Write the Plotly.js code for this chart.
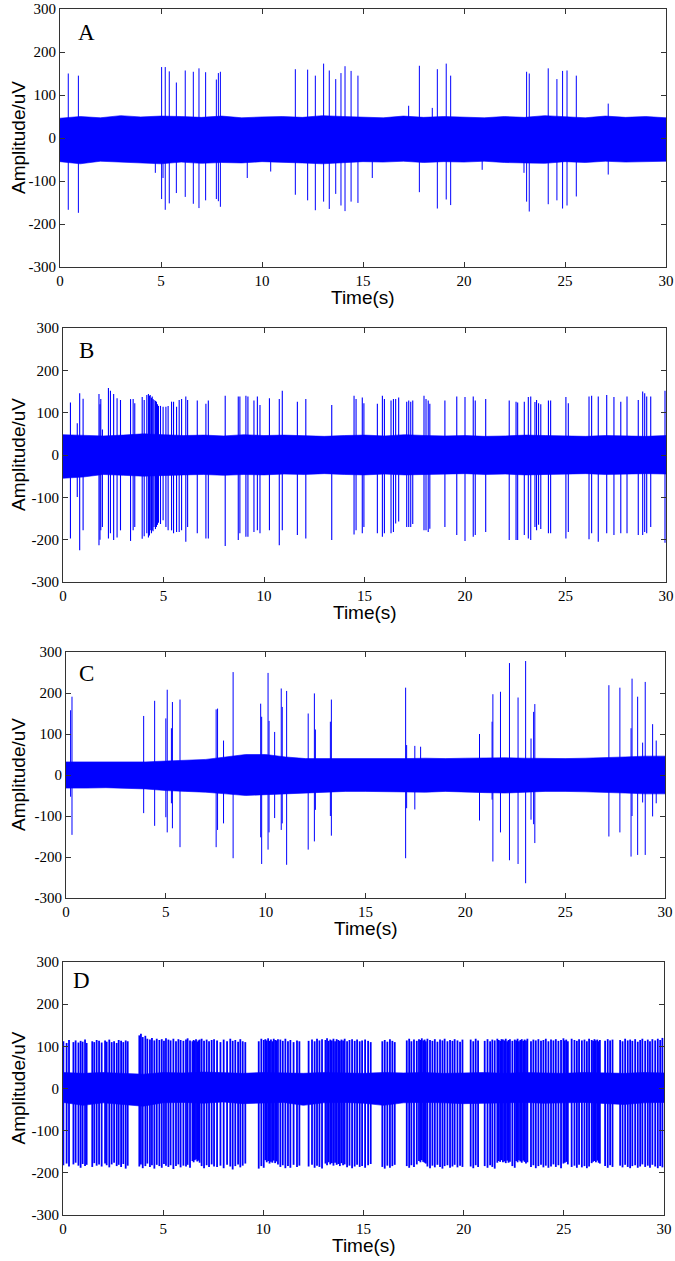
<!DOCTYPE html>
<html><head><meta charset="utf-8">
<script src="https://cdn.plot.ly/plotly-3.0.1.min.js"></script>
<style>html,body{margin:0;padding:0;background:#fff}</style>
</head><body>
<div id="chart" style="width:675px;height:1261px"></div>
<script>
// ---------- DATA ----------
const panelLabels = ['A', 'B', 'C', 'D'];
const xTicks = [0, 5, 10, 15, 20, 25, 30];
const yTicks = [-300, -200, -100, 0, 100, 200, 300];
const xTitle = 'Time(s)';
const yTitle = 'Amplitude/uV';

// background noise envelope, knots every second
const bandT = [0,1,2,3,4,5,6,7,8,9,10,11,12,13,14,15,16,17,18,19,20,21,22,23,24,25,26,27,28,29,30];
const aBandHi = [46,50,47,52,49,51,50,48,51,47,49,50,48,52,50,49,47,51,48,50,49,47,50,48,52,49,47,51,48,50,47];
const aBandLo = [-55,-60,-54,-57,-58,-60,-56,-59,-57,-58,-55,-56,-58,-60,-57,-55,-56,-54,-57,-55,-56,-54,-57,-58,-59,-55,-57,-54,-56,-55,-54];
const bBandHi = [48,46,45,47,50,48,46,47,45,48,46,47,45,44,46,47,45,48,46,45,46,44,45,47,46,45,44,46,45,44,46];
const bBandLo = [-55,-52,-46,-48,-50,-48,-47,-46,-48,-46,-47,-45,-46,-44,-46,-47,-45,-47,-46,-45,-44,-46,-45,-47,-46,-45,-44,-46,-45,-44,-45];
const cBandHi = [32,32,31,32,32,34,36,38,44,50,50,44,40,40,40,40,39,40,41,40,41,42,42,41,40,40,41,42,44,46,46];
const cBandLo = [-32,-32,-31,-32,-34,-38,-40,-42,-46,-50,-48,-45,-44,-42,-40,-40,-40,-41,-42,-40,-41,-43,-44,-42,-40,-40,-41,-42,-44,-46,-46];
const dBandHi = [38,36,38,36,34,38,37,39,38,36,38,37,36,38,37,36,38,37,38,36,37,38,36,38,37,36,38,37,36,38,37];
const dBandLo = [-33,-40,-34,-38,-42,-34,-33,-35,-32,-36,-34,-33,-40,-34,-33,-35,-40,-34,-33,-34,-36,-35,-34,-33,-35,-34,-33,-36,-38,-34,-33];

// spikes: time (s), positive tip, negative tip (uV)
const aSpikeT  = [0.41,0.91,4.72,5.03,5.1,5.21,5.41,5.76,6.2,6.6,6.88,7.21,7.74,7.84,7.94,9.27,10.43,11.65,12.26,12.64,13.05,13.33,13.65,13.91,14.11,14.41,14.75,15.46,17.26,17.79,18.43,18.68,19.12,19.34,20.9,22.97,23.1,23.23,24.17,24.6,24.88,25.1,25.56,27.14];
const aSpikeUp = [150,145,0,165,40,165,155,129,157,154,162,153,136,151,154,0,0,160,159,145,173,157,137,151,167,156,145,0,75,168,70,160,173,145,0,0,154,150,162,137,156,157,145,80];
const aSpikeDn = [-167,-174,-81,-142,-93,-167,-152,-128,-137,-153,-163,-145,-142,-147,-160,-93,-78,-132,-145,-168,-148,-165,-130,-157,-170,-148,-151,-93,0,-126,0,-164,-143,-156,-74,-81,-148,-171,-154,-145,-164,-157,-136,-85];

const bSpikeT  = [0.37,0.71,0.83,1.0,1.79,1.84,1.88,1.96,2.26,2.36,2.52,2.69,2.86,3.36,3.49,3.57,3.94,4.04,4.17,4.25,4.3,4.34,4.4,4.44,4.48,4.53,4.6,4.65,4.7,4.75,4.85,4.98,5.12,5.23,5.4,5.5,5.65,5.78,5.9,6.11,6.2,6.68,7.11,7.23,8.07,8.72,8.8,9.1,9.2,9.5,9.67,9.8,10.27,10.76,10.91,11.66,12.08,13.37,
  14.48,14.58,14.89,14.97,15.64,15.89,15.99,16.32,16.44,16.55,16.7,17.1,17.2,17.3,17.4,17.96,18.06,18.17,18.25,19.0,19.59,20.0,20.41,20.51,21.03,22.2,22.54,22.62,22.95,23.15,23.27,23.48,23.56,23.66,23.77,24.15,24.26,25.02,25.14,26.17,26.3,26.63,27.05,27.41,27.75,28.06,28.62,28.84,28.94,29.04,29.24,29.95];
const bSpikeUp = [124,75,146,133,144,120,132,60,158,152,144,134,130,132,132,122,137,130,142,144,140,142,135,138,132,130,128,126,120,116,116,114,114,116,126,126,114,130,132,138,130,129,121,129,140,138,138,140,138,129,138,118,134,132,152,126,132,118,
  140,132,136,122,121,140,132,129,132,132,136,126,129,126,129,140,132,129,121,129,138,137,138,129,132,129,126,124,126,137,138,125,130,122,120,129,129,137,122,138,140,138,142,137,126,138,130,150,146,138,138,152];
const bSpikeDn = [-197,-99,-225,-178,-213,-200,-178,-170,-197,-185,-201,-195,-178,-203,-178,-170,-198,-192,-185,-195,-190,-178,-185,-178,-180,-170,-175,-170,-165,-160,-163,-154,-170,-178,-178,-185,-182,-182,-178,-205,-170,-185,-197,-197,-215,-201,-185,-193,-193,-182,-178,-185,-178,-213,-178,-189,-197,-201,
  -188,-178,-185,-170,-185,-193,-185,-185,-182,-162,-157,-170,-170,-170,-163,-178,-178,-182,-174,-170,-189,-203,-193,-189,-182,-201,-201,-201,-189,-197,-201,-170,-178,-165,-175,-185,-185,-197,-182,-199,-185,-205,-185,-189,-185,-185,-189,-189,-182,-185,-170,-207];

const cSpikeT  = [0.23,0.3,3.89,4.44,5.0,5.07,5.28,5.33,5.71,7.52,7.59,7.89,8.37,9.75,9.8,10.12,10.17,10.45,10.78,10.83,11.05,12.13,12.44,12.49,13.24,13.29,17.01,17.06,17.47,17.76,20.71,21.34,21.38,21.76,22.21,22.64,23.02,23.29,23.42,23.48,27.19,27.74,28.3,28.35,28.63,28.88,29.01,29.38,29.56];
const cSpikeUp = [158,191,144,181,138,208,114,178,184,160,162,84,251,174,142,249,132,105,211,166,205,150,199,111,130,184,213,73,71,69,100,130,197,203,273,189,278,89,154,173,219,213,114,235,191,79,227,124,84];
const cSpikeDn = [-53,-146,-93,-124,-103,-140,-69,-130,-176,-176,-134,-118,-203,-152,-217,-182,-140,-105,-134,-118,-219,-182,-162,-85,-100,-148,-203,-81,-84,0,-111,-60,-211,-140,-208,-217,-264,-109,-120,-166,-150,-140,-199,-100,-195,-67,-195,-101,-69];

const dSpikeT = [
  0.02,0.18,0.3,0.52,0.63,0.77,0.88,0.98,1.1,1.18,1.46,1.56,1.68,1.8,1.93,2.1,2.18,2.31,2.43,2.55,2.68,2.78,2.9,3.01,3.13,3.23,
  3.81,3.89,3.98,4.11,4.21,4.34,4.44,4.56,4.68,4.81,4.93,5.04,5.14,5.26,5.37,5.51,5.64,5.76,5.87,6.01,6.14,6.22,6.34,6.46,6.52,6.58,6.64,6.7,6.76,6.82,6.92,7.04,7.17,7.29,7.42,7.54,
  7.69,7.86,8.02,8.19,8.35,8.47,8.6,8.74,8.85,8.97,9.1,
  9.77,9.9,10.02,10.1,10.17,10.24,10.31,10.38,10.45,10.52,10.59,10.66,10.73,10.85,10.97,11.1,11.23,11.35,11.51,11.68,11.8,
  12.26,12.43,12.56,12.68,12.8,12.93,13.1,13.18,13.26,13.34,13.42,13.5,13.58,13.66,13.74,13.82,13.9,13.98,14.06,14.18,14.3,14.43,14.56,14.68,14.81,14.93,15.08,15.23,15.36,
  15.94,16.06,16.19,16.32,16.44,16.56,
  17.16,17.28,17.39,17.52,17.66,17.77,17.84,17.91,17.98,18.05,18.11,18.19,18.32,18.44,18.56,18.69,18.82,18.94,19.05,19.19,19.32,19.44,19.55,19.69,19.82,19.94,
  20.35,20.48,20.6,20.72,
  21.05,21.19,21.32,21.43,21.55,21.68,21.75,21.82,21.89,21.96,22.03,22.1,22.17,22.24,22.31,22.43,22.55,22.62,22.69,22.76,22.83,22.9,22.97,23.04,23.11,23.18,23.36,23.48,23.6,23.73,23.86,23.98,24.1,24.23,24.36,24.48,24.6,24.73,24.86,24.98,25.05,25.12,25.2,25.39,25.53,25.65,25.76,25.9,26.03,26.15,26.26,26.39,26.46,26.53,26.6,26.67,26.74,26.8,27.06,27.19,27.31,27.43,
  27.81,27.93,28.06,28.19,28.31,28.42,28.56,28.69,28.81,28.92,29.06,29.19,29.3,29.42,29.56,29.69,29.81,29.92];
const dSpikeUp = [
  112,108,115,110,114,109,113,111,116,108,112,110,115,113,109,114,111,116,110,112,108,115,113,110,114,112,
  126,130,122,125,118,116,120,114,118,115,117,113,119,116,114,118,112,117,115,113,116,119,114,112,115,113,117,111,114,116,118,113,116,112,115,117,
  114,110,116,112,118,113,115,111,117,112,110,
  112,118,115,117,114,119,113,116,112,118,115,114,117,116,113,118,112,115,110,114,112,
  113,116,112,118,114,117,115,119,113,116,114,118,112,117,115,113,116,114,118,112,115,117,113,116,112,114,116,113,110,
  112,115,111,117,113,110,
  114,118,112,116,113,117,115,119,114,116,112,118,115,113,117,111,116,114,118,112,115,113,117,114,111,116,
  116,112,118,114,
  113,117,112,116,114,118,115,113,117,116,114,118,112,115,117,113,116,114,118,112,115,117,113,116,114,118,112,116,114,117,113,115,118,112,116,114,117,113,115,119,114,116,112,118,115,113,117,114,116,112,118,115,113,117,114,116,112,115,113,117,114,116,
  115,112,118,114,116,113,117,111,115,118,113,116,112,117,114,118,115,120];
const dSpikeDn = [
  -182,-178,-185,-180,-176,-183,-188,-179,-184,-181,-186,-177,-183,-180,-185,-178,-182,-187,-180,-176,-184,-181,-186,-179,-190,-183,
  -185,-180,-189,-184,-178,-186,-182,-190,-181,-184,-188,-179,-183,-186,-182,-191,-184,-180,-187,-183,-185,-181,-188,-172,-175,-170,-168,-173,-171,-176,-184,-189,-182,-186,-180,-185,
  -186,-183,-189,-181,-185,-192,-184,-180,-187,-183,-178,
  -190,-184,-188,-170,-175,-172,-178,-174,-176,-171,-177,-173,-180,-186,-182,-189,-184,-188,-181,-186,-183,
  -185,-181,-188,-183,-186,-190,-178,-182,-175,-180,-177,-183,-176,-181,-179,-184,-177,-182,-180,-187,-183,-189,-185,-181,-186,-184,-188,-182,-179,
  -186,-190,-183,-188,-184,-181,
  -184,-188,-182,-186,-180,-172,-175,-170,-174,-176,-178,-185,-189,-183,-187,-181,-186,-190,-184,-182,-188,-185,-181,-187,-183,-186,
  -185,-189,-182,-186,
  -184,-188,-182,-186,-190,-176,-172,-174,-170,-175,-173,-177,-171,-176,-174,-184,-188,-172,-175,-170,-173,-176,-171,-174,-178,-175,-186,-182,-189,-184,-181,-187,-183,-188,-185,-180,-186,-182,-189,-178,-176,-174,-180,-186,-183,-188,-181,-187,-184,-189,-185,-177,-174,-172,-175,-171,-176,-178,-184,-188,-182,-186,
  -183,-187,-181,-186,-189,-184,-182,-188,-185,-180,-186,-183,-188,-181,-185,-189,-184,-187];

// ---------- LAYOUT (pixel boxes of each panel) ----------
const W = 675, H = 1261;
const BLUE = '#0000ff';
const panels = [
  {hi: aBandHi, lo: aBandLo, t: aSpikeT, up: aSpikeUp, dn: aSpikeDn, box: [60, 666, 9, 267],   letter: [86, 32],  lw: 1},
  {hi: bBandHi, lo: bBandLo, t: bSpikeT, up: bSpikeUp, dn: bSpikeDn, box: [63, 666, 328, 582], letter: [86, 350], lw: 1.1},
  {hi: cBandHi, lo: cBandLo, t: cSpikeT, up: cSpikeUp, dn: cSpikeDn, box: [66, 665, 652, 898], letter: [86, 673], lw: 1},
  {hi: dBandHi, lo: dBandLo, t: dSpikeT, up: dSpikeUp, dn: dSpikeDn, box: [63, 664, 962, 1215], letter: [81, 980], lw: 1.8}
];

const traces = [];
const layout = {
  width: W, height: H,
  margin: {l: 0, r: 0, t: 0, b: 0},
  paper_bgcolor: '#fff', plot_bgcolor: '#fff',
  showlegend: false,
  annotations: []
};
const px = x => x / W;
const py = y => 1 - y / H;

panels.forEach((p, i) => {
  const n = i + 1;
  const xa = 'x' + (n === 1 ? '' : n), ya = 'y' + (n === 1 ? '' : n);
  // noise band
  const bx = bandT.concat(bandT.slice().reverse());
  const by = p.hi.concat(p.lo.slice().reverse());
  traces.push({type: 'scatter', mode: 'lines', x: bx, y: by, fill: 'toself',
    fillcolor: BLUE, line: {color: BLUE, width: 0.6}, xaxis: xa, yaxis: ya, hoverinfo: 'skip'});
  // spikes
  const sx = [], sy = [];
  const m = Math.min(p.t.length, p.up.length, p.dn.length);
  for (let k = 0; k < m; k++) {
    sx.push(p.t[k], p.t[k], null);
    sy.push(p.up[k], p.dn[k], null);
  }
  traces.push({type: 'scatter', mode: 'lines', x: sx, y: sy, connectgaps: false,
    line: {color: BLUE, width: p.lw}, xaxis: xa, yaxis: ya, hoverinfo: 'skip'});

  const [l, r, t, b] = p.box;
  const axCommon = {
    showline: true, linecolor: '#333', linewidth: 1, mirror: 'ticks',
    ticks: 'inside', ticklen: 5, tickcolor: '#333', tickwidth: 1,
    showgrid: false, zeroline: false,
    tickfont: {family: 'Liberation Serif, Times New Roman, serif', size: 15, color: '#000'}
  };
  layout['xaxis' + (n === 1 ? '' : n)] = Object.assign({}, axCommon, {
    domain: [px(l), px(r)], anchor: ya, range: [0, 30], tickvals: xTicks, ticktext: xTicks.map(String)
  });
  layout['yaxis' + (n === 1 ? '' : n)] = Object.assign({}, axCommon, {
    domain: [py(b), py(t)], anchor: xa, range: [-300, 300], tickvals: yTicks, ticktext: yTicks.map(String)
  });
  // panel letter
  layout.annotations.push({xref: 'paper', yref: 'paper', x: px(p.letter[0]), y: py(p.letter[1]),
    xanchor: 'center', yanchor: 'middle', showarrow: false, text: panelLabels[i],
    font: {family: 'Liberation Serif, Times New Roman, serif', size: 23, color: '#000'}});
  // axis titles
  layout.annotations.push({xref: 'paper', yref: 'paper', x: px((l + r) / 2), y: py(b + 30),
    xanchor: 'center', yanchor: 'middle', showarrow: false, text: xTitle,
    font: {family: 'Liberation Sans, Arial, sans-serif', size: 19, color: '#000'}});
  layout.annotations.push({xref: 'paper', yref: 'paper', x: px(18), y: py((t + b) / 2),
    xanchor: 'center', yanchor: 'middle', showarrow: false, text: yTitle, textangle: -90,
    font: {family: 'Liberation Sans, Arial, sans-serif', size: 19, color: '#000'}});
});

Plotly.newPlot('chart', traces, layout, {displayModeBar: false, staticPlot: true});
</script>
</body></html>
